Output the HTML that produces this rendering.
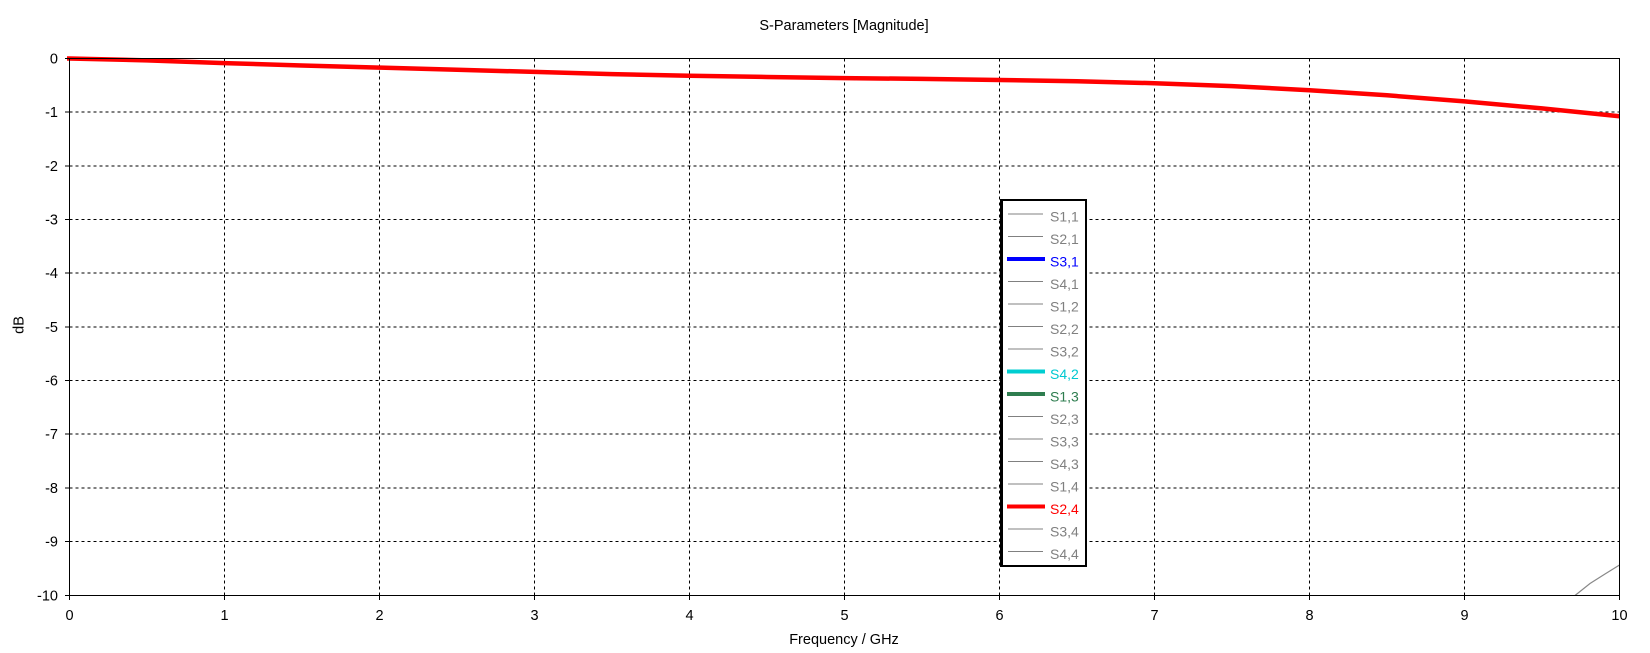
<!DOCTYPE html>
<html>
<head>
<meta charset="utf-8">
<style>
html,body{margin:0;padding:0;background:#fff;}
svg{display:block;}
text{font-family:"Liberation Sans","DejaVu Sans",sans-serif;}
</style>
</head>
<body>
<svg width="1650" height="653" viewBox="0 0 1650 653" xmlns="http://www.w3.org/2000/svg">
<rect x="0" y="0" width="1650" height="653" fill="#fff"/>
<text x="844" y="30" font-size="14.5" text-anchor="middle" fill="#000">S-Parameters [Magnitude]</text>

<g stroke="#000" stroke-width="1" stroke-dasharray="3,3" shape-rendering="crispEdges">
  <line x1="69.5" y1="112.2" x2="1619.5" y2="112.2"/>
  <line x1="69.5" y1="165.9" x2="1619.5" y2="165.9"/>
  <line x1="69.5" y1="219.5" x2="1619.5" y2="219.5"/>
  <line x1="69.5" y1="273.2" x2="1619.5" y2="273.2"/>
  <line x1="69.5" y1="326.9" x2="1619.5" y2="326.9"/>
  <line x1="69.5" y1="380.5" x2="1619.5" y2="380.5"/>
  <line x1="69.5" y1="434.2" x2="1619.5" y2="434.2"/>
  <line x1="69.5" y1="487.9" x2="1619.5" y2="487.9"/>
  <line x1="69.5" y1="541.5" x2="1619.5" y2="541.5"/>
  <line x1="224.5" y1="58.5" x2="224.5" y2="595.5"/>
  <line x1="379.5" y1="58.5" x2="379.5" y2="595.5"/>
  <line x1="534.5" y1="58.5" x2="534.5" y2="595.5"/>
  <line x1="689.5" y1="58.5" x2="689.5" y2="595.5"/>
  <line x1="844.5" y1="58.5" x2="844.5" y2="595.5"/>
  <line x1="999.5" y1="58.5" x2="999.5" y2="595.5"/>
  <line x1="1154.5" y1="58.5" x2="1154.5" y2="595.5"/>
  <line x1="1309.5" y1="58.5" x2="1309.5" y2="595.5"/>
  <line x1="1464.5" y1="58.5" x2="1464.5" y2="595.5"/>
</g>

<!-- grey curve bottom right -->
<polyline points="1575,595.5 1590,583.5 1605,574 1619.5,565" fill="none" stroke="#888" stroke-width="1.2"/>

<!-- red S2,4 curve -->
<polyline fill="none" stroke="#ff0000" stroke-width="4.5" stroke-linejoin="round"
 points="67,58.5 69.5,58.5 147,60.4 224.5,63.1 302,65.5 379.5,67.6 457,69.8 534.5,71.9 612,74.1 689.5,75.7 767,77.0 844.5,78.1 922,78.9 999.5,80.0 1077,81.3 1154.5,83.2 1232,86.1 1309.5,90.2 1387,95.3 1464.5,101.4 1542,108.4 1619.5,116.2"/>

<!-- frame -->
<rect x="69.5" y="58.5" width="1550" height="537" fill="none" stroke="#000" stroke-width="1.2" shape-rendering="crispEdges"/>

<!-- ticks -->
<g stroke="#000" stroke-width="1" shape-rendering="crispEdges">
  <line x1="65" y1="58.5" x2="69.5" y2="58.5"/>
  <line x1="65" y1="112.2" x2="69.5" y2="112.2"/>
  <line x1="65" y1="165.9" x2="69.5" y2="165.9"/>
  <line x1="65" y1="219.5" x2="69.5" y2="219.5"/>
  <line x1="65" y1="273.2" x2="69.5" y2="273.2"/>
  <line x1="65" y1="326.9" x2="69.5" y2="326.9"/>
  <line x1="65" y1="380.5" x2="69.5" y2="380.5"/>
  <line x1="65" y1="434.2" x2="69.5" y2="434.2"/>
  <line x1="65" y1="487.9" x2="69.5" y2="487.9"/>
  <line x1="65" y1="541.5" x2="69.5" y2="541.5"/>
  <line x1="65" y1="595.5" x2="69.5" y2="595.5"/>
  <line x1="69.5" y1="595.5" x2="69.5" y2="600"/>
  <line x1="224.5" y1="595.5" x2="224.5" y2="600"/>
  <line x1="379.5" y1="595.5" x2="379.5" y2="600"/>
  <line x1="534.5" y1="595.5" x2="534.5" y2="600"/>
  <line x1="689.5" y1="595.5" x2="689.5" y2="600"/>
  <line x1="844.5" y1="595.5" x2="844.5" y2="600"/>
  <line x1="999.5" y1="595.5" x2="999.5" y2="600"/>
  <line x1="1154.5" y1="595.5" x2="1154.5" y2="600"/>
  <line x1="1309.5" y1="595.5" x2="1309.5" y2="600"/>
  <line x1="1464.5" y1="595.5" x2="1464.5" y2="600"/>
  <line x1="1619.5" y1="595.5" x2="1619.5" y2="600"/>
</g>

<!-- y tick labels -->
<g font-size="14.5" text-anchor="end" fill="#000">
  <text x="58" y="63.5">0</text>
  <text x="58" y="117.2">-1</text>
  <text x="58" y="170.9">-2</text>
  <text x="58" y="224.5">-3</text>
  <text x="58" y="278.2">-4</text>
  <text x="58" y="331.9">-5</text>
  <text x="58" y="385.5">-6</text>
  <text x="58" y="439.2">-7</text>
  <text x="58" y="492.9">-8</text>
  <text x="58" y="546.5">-9</text>
  <text x="58" y="600.5">-10</text>
</g>
<!-- x tick labels -->
<g font-size="14.5" text-anchor="middle" fill="#000">
  <text x="69.5" y="620">0</text>
  <text x="224.5" y="620">1</text>
  <text x="379.5" y="620">2</text>
  <text x="534.5" y="620">3</text>
  <text x="689.5" y="620">4</text>
  <text x="844.5" y="620">5</text>
  <text x="999.5" y="620">6</text>
  <text x="1154.5" y="620">7</text>
  <text x="1309.5" y="620">8</text>
  <text x="1464.5" y="620">9</text>
  <text x="1619.5" y="620">10</text>
</g>
<text x="844" y="644" font-size="14.5" text-anchor="middle" fill="#000">Frequency / GHz</text>
<text transform="translate(23.5,325) rotate(-90)" font-size="14.5" text-anchor="middle" fill="#000">dB</text>

<!-- legend -->
<rect x="1001" y="200" width="85" height="366" fill="#fff" stroke="#000" stroke-width="2"/>
<line x1="1002.5" y1="199" x2="1002.5" y2="567" stroke="#000" stroke-width="1"/>
<g font-size="14" fill="#808080">
  <line x1="1008" y1="214" x2="1043" y2="214" stroke="#808080" stroke-width="1"/><text x="1050" y="221.5">S1,1</text>
  <line x1="1008" y1="236.5" x2="1043" y2="236.5" stroke="#808080" stroke-width="1"/><text x="1050" y="244">S2,1</text>
  <line x1="1007" y1="259" x2="1045" y2="259" stroke="#0000ff" stroke-width="4"/><text x="1050" y="266.5" fill="#0000ff">S3,1</text>
  <line x1="1008" y1="281.5" x2="1043" y2="281.5" stroke="#808080" stroke-width="1"/><text x="1050" y="289">S4,1</text>
  <line x1="1008" y1="304" x2="1043" y2="304" stroke="#808080" stroke-width="1"/><text x="1050" y="311.5">S1,2</text>
  <line x1="1008" y1="326.5" x2="1043" y2="326.5" stroke="#808080" stroke-width="1"/><text x="1050" y="334">S2,2</text>
  <line x1="1008" y1="349" x2="1043" y2="349" stroke="#808080" stroke-width="1"/><text x="1050" y="356.5">S3,2</text>
  <line x1="1007" y1="371.5" x2="1045" y2="371.5" stroke="#00ced1" stroke-width="4"/><text x="1050" y="379" fill="#00c8d0">S4,2</text>
  <line x1="1007" y1="394" x2="1045" y2="394" stroke="#2e7d4f" stroke-width="4"/><text x="1050" y="401.5" fill="#2e7d4f">S1,3</text>
  <line x1="1008" y1="416.5" x2="1043" y2="416.5" stroke="#808080" stroke-width="1"/><text x="1050" y="424">S2,3</text>
  <line x1="1008" y1="439" x2="1043" y2="439" stroke="#808080" stroke-width="1"/><text x="1050" y="446.5">S3,3</text>
  <line x1="1008" y1="461.5" x2="1043" y2="461.5" stroke="#808080" stroke-width="1"/><text x="1050" y="469">S4,3</text>
  <line x1="1008" y1="484" x2="1043" y2="484" stroke="#808080" stroke-width="1"/><text x="1050" y="491.5">S1,4</text>
  <line x1="1007" y1="506.5" x2="1045" y2="506.5" stroke="#ff0000" stroke-width="4"/><text x="1050" y="514" fill="#ff0000">S2,4</text>
  <line x1="1008" y1="529" x2="1043" y2="529" stroke="#808080" stroke-width="1"/><text x="1050" y="536.5">S3,4</text>
  <line x1="1008" y1="551.5" x2="1043" y2="551.5" stroke="#808080" stroke-width="1"/><text x="1050" y="559">S4,4</text>
</g>
</svg>
</body>
</html>
